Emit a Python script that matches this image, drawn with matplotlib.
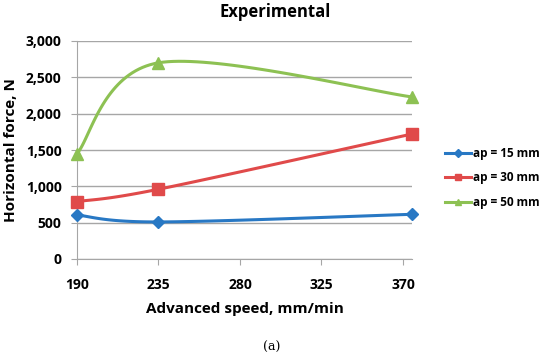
import matplotlib.pyplot as plt
import numpy as np

speed = [190, 235, 375]
force_15 = [605, 510, 615]
force_30 = [790, 960, 1720]
force_50 = [1450, 2700, 2230]
labels = ["ap = 15 mm", "ap = 30 mm", "ap = 50 mm"]
xticks = [190, 235, 280, 325, 370]
yticks = [0, 500, 1000, 1500, 2000, 2500, 3000]

colors = ["#2878C4", "#E04A4A", "#8DC153"]
markers = ["D", "s", "^"]


def smooth(x, y, n=40):
    # Excel-like smoothed line: cubic Bezier with 1/6 neighbour tangents
    p = np.column_stack([x, y]).astype(float)
    ext = np.vstack([p[0], p, p[-1]])
    out = []
    t = np.linspace(0, 1, n)[:, None]
    for i in range(len(p) - 1):
        p0, p1 = p[i], p[i + 1]
        c1 = p0 + (ext[i + 2] - ext[i]) / 6
        c2 = p1 - (ext[i + 3] - ext[i + 1]) / 6
        seg = ((1 - t) ** 3) * p0 + 3 * ((1 - t) ** 2) * t * c1 + 3 * (1 - t) * t ** 2 * c2 + t ** 3 * p1
        out.append(seg)
    out = np.vstack(out)
    return out[:, 0], out[:, 1]


plt.rcParams["font.family"] = ["Open Sans", "DejaVu Sans"]
fig = plt.figure(figsize=(5.5, 3.64), dpi=100)
ax = fig.add_axes([77 / 550, 1 - 259 / 364, (412 - 77) / 550, (259 - 41) / 364])

for ys, c, m, lab, ms in zip([force_15, force_30, force_50], colors, markers, labels, [6, 8, 8]):
    sx, sy = smooth(speed, ys)
    ax.plot(sx, sy, color=c, lw=2.2, zorder=3)
    ax.plot(speed, ys, ls="none", marker=m, color=c, ms=ms, zorder=4, clip_on=False)
    ax.plot([], [], color=c, lw=2.2, marker=m, ms=4, label=lab)

ax.set_xlim(190, 375)
ax.set_ylim(0, 3000)
ax.set_xticks(xticks)
ax.set_yticks(yticks)
ax.set_yticklabels([f"{v:,}" for v in yticks])
ax.grid(axis="y", color="#A6A6A6", lw=1)
ax.set_axisbelow(True)
for s in ["top", "right"]:
    ax.spines[s].set_visible(False)
for s in ["left", "bottom"]:
    ax.spines[s].set_color("#A6A6A6")
ax.tick_params(colors="#A6A6A6", labelcolor="black", length=4)
ax.tick_params(axis="x", pad=10)
ax.tick_params(axis="y", pad=7)
for lab in ax.get_xticklabels() + ax.get_yticklabels():
    lab.set_fontweight("bold")
    lab.set_fontsize(10)

ax.set_xlabel("Advanced speed, mm/min", fontsize=11, fontweight="bold", labelpad=7)
ax.set_ylabel("Horizontal force, N", fontsize=11, fontweight="bold", labelpad=6)
fig.text(0.5, 1 - 12 / 364, "Experimental", ha="center", va="center", fontsize=12, fontweight="bold")
fig.text(272 / 550, 1 - 347 / 364, "(a)", ha="center", va="center", fontsize=9, family="DejaVu Serif")

leg = fig.legend(loc="center left", bbox_to_anchor=(445 / 550, 1 - 178 / 364), frameon=False,
                 prop={"weight": "bold", "size": 8.5}, handlelength=2.2, handletextpad=0.2,
                 labelspacing=1.0, borderaxespad=0, borderpad=0)

fig.savefig("out.png")
